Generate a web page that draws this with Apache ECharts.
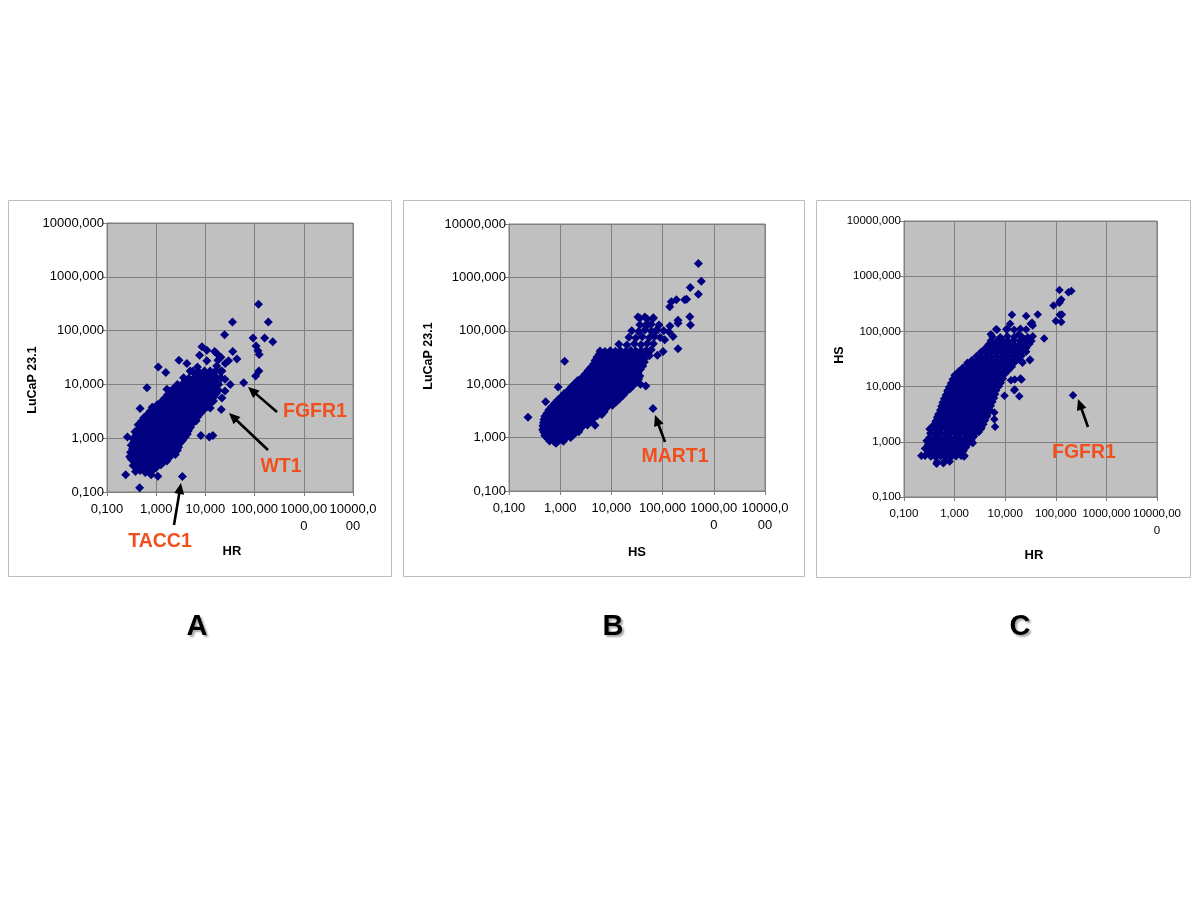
<!DOCTYPE html>
<html><head><meta charset="utf-8">
<script src="https://cdn.jsdelivr.net/npm/echarts@6/dist/echarts.min.js"></script>
<style>html,body{margin:0;padding:0;background:#fff}#c{width:1200px;height:901px}</style>
</head><body><div id="c"></div>
<script>
// ---- tick labels ----
const yTickLabels = ['0,100','1,000','10,000','100,000','1000,000','10000,000'];
const xTickLabelsAB = ['0,100','1,000','10,000','100,000','1000,00\n0','10000,0\n00'];
const xTickLabelsC = ['0,100','1,000','10,000','100,000','1000,000','10000,00\n0'];

// ---- axis titles ----
const titlesA = {x:'HR', y:'LuCaP 23.1'};
const titlesB = {x:'HS', y:'LuCaP 23.1'};
const titlesC = {x:'HR', y:'HS'};
const panelLetters = ['A','B','C'];

// ---- panel A: [HR, LuCaP 23.1] ----
const pointsA = [
[120,309],[35.5,144],[190,144],[24.5,84],[93,73],[160,73],[234,62],[107,52],[117,42],[124,36],[122,17.8],[105,14.4],[60,10.7],[21,3.4],[3.4,0.195],
[8.5,50],[10.7,43],[15.4,41],[17,37.6],[36,41],[7.6,35],[29.5,27.5],[43.7,29.5],[25.3,24.5],[21.7,17.8],[2.9,28],[1.1,21],[1.57,16.6],[4.2,24.5],[4.9,17.8],[6.9,21],[0.65,8.7],[1.65,8.1],[0.47,3.55],[0.83,3.76],[0.55,2.2],[0.26,1.05],[0.29,0.45],[0.24,0.21],[0.46,0.12],[1.08,0.196],[0.79,0.21],[14.2,1.12],[8.1,1.12],[12,1.05],
[20.7,32],[18,28],[12.5,17.8],[17,22],[10.7,27.5],[25,12.4],[18.5,10],[13.5,10],[17,7.5],[25,7.5],[32,10],[10.7,4.9],[21.7,5.6],[12.5,3.65],[14.6,4.9],[4.5,1.6],[6.5,2.1],[8.8,3.6],[3.6,10.7],[2.6,7.5],
[0.38,0.24],[0.47,0.25],[0.6,0.23],[0.74,0.25],[0.88,0.26],
[0.42,0.275],[0.53,0.28],[0.67,0.27],[0.83,0.28],[1.0,0.285],
[0.34,0.31],[0.43,0.30],[0.53,0.32],[0.66,0.31],[0.83,0.30],[1.02,0.33],[1.25,0.32],
[0.36,0.36],[0.45,0.355],[0.57,0.365],[0.71,0.36],[0.9,0.355],[1.12,0.37],[1.4,0.36],[1.65,0.375],
[0.31,0.41],[0.39,0.40],[0.48,0.42],[0.6,0.41],[0.76,0.40],[0.95,0.42],[1.18,0.41],[1.5,0.43],[1.85,0.44],
[0.33,0.47],[0.41,0.465],[0.52,0.475],[0.65,0.47],[0.81,0.46],[1.02,0.48],[1.27,0.47],[1.6,0.485],[2.0,0.49],[2.45,0.5],
[0.3,0.55],[0.37,0.54],[0.46,0.56],[0.58,0.55],[0.72,0.54],[0.9,0.56],[1.13,0.55],[1.42,0.57],[1.8,0.56],[2.25,0.58],[2.7,0.6],
[0.33,0.64],[0.41,0.63],[0.51,0.645],[0.64,0.64],[0.8,0.63],[1.0,0.65],[1.26,0.64],[1.6,0.655],[2.0,0.64],[2.5,0.66],[2.85,0.68],
[0.31,0.74],[0.39,0.73],[0.49,0.75],[0.61,0.74],[0.77,0.72],[0.97,0.75],[1.22,0.74],[1.53,0.76],[1.92,0.73],[2.4,0.77],[3.0,0.8],
[0.35,0.85],[0.44,0.84],[0.55,0.86],[0.69,0.85],[0.87,0.84],[1.1,0.86],[1.38,0.85],[1.73,0.87],[2.17,0.84],[2.75,0.87],[3.4,0.9],
[0.34,0.98],[0.42,0.96],[0.53,1.0],[0.66,0.98],[0.83,0.97],[1.04,1.0],[1.3,0.98],[1.64,1.01],[2.05,0.97],[2.6,1.0],[3.2,1.02],[3.9,1.05],
[0.39,1.14],[0.5,1.12],[0.62,1.15],[0.78,1.13],[0.98,1.14],[1.23,1.12],[1.55,1.15],[1.95,1.13],[2.45,1.15],[3.05,1.14],[3.8,1.17],[4.3,1.2],
[0.37,1.32],[0.47,1.3],[0.59,1.34],[0.74,1.32],[0.93,1.3],[1.17,1.33],[1.47,1.31],[1.85,1.34],[2.3,1.3],[2.9,1.35],[3.6,1.33],[4.5,1.38],
[0.45,1.53],[0.57,1.51],[0.71,1.54],[0.89,1.52],[1.12,1.55],[1.4,1.51],[1.75,1.54],[2.2,1.52],[2.75,1.55],[3.4,1.53],[4.3,1.57],[5.0,1.6],
[0.43,1.78],[0.54,1.76],[0.68,1.8],[0.86,1.77],[1.08,1.79],[1.36,1.76],[1.7,1.8],[2.15,1.78],[2.7,1.75],[3.4,1.8],[4.3,1.82],[5.4,1.85],
[0.5,2.06],[0.63,2.03],[0.79,2.08],[1.0,2.04],[1.25,2.07],[1.57,2.03],[1.97,2.08],[2.5,2.05],[3.1,2.07],[3.9,2.04],[4.9,2.1],[6.2,2.15],
[0.56,2.4],[0.7,2.36],[0.88,2.42],[1.1,2.38],[1.4,2.41],[1.76,2.37],[2.2,2.43],[2.8,2.4],[3.5,2.36],[4.4,2.42],[5.6,2.45],[7.0,2.5],
[0.66,2.77],[0.83,2.74],[1.04,2.8],[1.3,2.75],[1.63,2.79],[2.05,2.74],[2.6,2.8],[3.25,2.76],[4.1,2.78],[5.1,2.82],[6.4,2.85],[8.0,2.9],
[0.76,3.2],[0.96,3.15],[1.2,3.22],[1.5,3.18],[1.9,3.24],[2.4,3.17],[3.0,3.21],[3.8,3.16],[4.8,3.25],[6.0,3.2],[7.6,3.3],[9.4,3.4],
[0.9,3.67],[1.13,3.62],[1.42,3.7],[1.78,3.64],[2.25,3.69],[2.8,3.63],[3.5,3.7],[4.4,3.65],[5.5,3.68],[6.9,3.72],[8.6,3.75],[10.8,3.85],
[1.05,4.2],[1.3,4.15],[1.65,4.25],[2.05,4.18],[2.6,4.22],[3.2,4.16],[4.1,4.24],[5.1,4.2],[6.4,4.15],[8.1,4.3],[10,4.25],[12.5,4.4],
[1.3,4.85],[1.65,4.78],[2.1,4.9],[2.6,4.8],[3.3,4.88],[4.2,4.8],[5.3,4.9],[6.7,4.82],[8.5,4.88],[10.7,4.95],[13.5,5.05],
[1.5,5.6],[1.9,5.5],[2.4,5.65],[3.0,5.55],[3.8,5.62],[4.8,5.52],[6.0,5.6],[7.6,5.7],[9.5,5.55],[12,5.8],[15,5.9],
[1.7,6.45],[2.15,6.35],[2.7,6.5],[3.4,6.4],[4.3,6.48],[5.4,6.38],[6.8,6.5],[8.5,6.42],[10.7,6.46],[13.5,6.6],[16.5,6.7],
[1.9,7.4],[2.4,7.3],[3.0,7.45],[3.8,7.35],[4.8,7.5],[6.1,7.3],[7.6,7.4],[9.6,7.55],[12,7.3],[15,7.6],[18.5,7.8],
[2.3,8.6],[3.0,8.5],[3.9,8.7],[5.0,8.5],[6.4,8.65],[8.2,8.5],[10.4,8.7],[13,8.55],[16.3,8.8],
[2.7,10],[3.5,9.8],[4.4,10.2],[5.6,9.9],[7.2,10.1],[9.2,9.8],[11.5,10.2],[14.5,10],[18,10.4],
[4.1,11.5],[5.3,11.3],[7.0,11.6],[9.0,11.4],[11.5,11.7],[14.5,11.5],
[3.6,13.3],[4.6,13],[6.1,13.5],[8.2,13.1],[10.3,13.4],[13,13],[16.5,13.6],[21,13.2],
[6.3,15.3],[8.5,15],[11,15.5],[14,15.2],
[5.5,17.5],[7.4,17],[9.6,17.8],[12.5,17.2],[15.8,17.6],[20,17.3]
];

// ---- panel B: [HS, LuCaP 23.1] ----
const pointsB = [
[500,1830],[570,850],[500,485],[347,645],[295,390],[270,380],[186,380],[148,350],[138,282],[200,158],[200,138],[340,183],[350,129],[200,46],[102,41],[79,35],[33,182],[45,182],[65,170],[51,129],[75,102],[133,96],[160,78],[110,68],[139,123],
[1.22,27],[0.235,2.4],[65,3.5],[37,10],[47,9.3],[0.91,8.9],[0.52,4.7],[0.91,5.0],[4.8,1.7],[0.46,1.38],[0.83,0.78],[1.66,1.12],[2.6,1.66],
[0.62,0.86],[0.76,0.84],[0.93,0.87],[1.15,0.85],
[0.56,0.97],[0.69,0.96],[0.85,0.98],[1.05,0.97],[1.3,0.99],[1.6,1.0],
[0.5,1.1],[0.62,1.08],[0.77,1.12],[0.95,1.09],[1.18,1.11],[1.45,1.08],[1.8,1.12],
[0.48,1.26],[0.55,1.25],[0.69,1.27],[0.86,1.25],[1.06,1.26],[1.31,1.24],[1.62,1.27],[2.0,1.26],[2.3,1.29],
[0.46,1.45],[0.57,1.43],[0.7,1.47],[0.87,1.44],[1.08,1.46],[1.33,1.43],[1.65,1.47],[2.05,1.45],[2.5,1.48],
[0.46,1.66],[0.52,1.64],[0.64,1.67],[0.79,1.65],[0.98,1.67],[1.21,1.64],[1.5,1.68],[1.86,1.65],[2.3,1.67],[2.85,1.7],[3.4,1.72],
[0.47,1.9],[0.58,1.87],[0.72,1.92],[0.89,1.88],[1.1,1.91],[1.37,1.87],[1.7,1.93],[2.1,1.89],[2.6,1.92],[3.2,1.95],[3.9,2.0],
[0.48,2.18],[0.53,2.15],[0.66,2.2],[0.81,2.16],[1.0,2.19],[1.24,2.15],[1.54,2.2],[1.9,2.17],[2.35,2.19],[2.9,2.22],[3.6,2.25],[4.5,2.3],
[0.5,2.5],[0.62,2.46],[0.77,2.52],[0.95,2.47],[1.18,2.51],[1.46,2.46],[1.8,2.53],[2.25,2.48],[2.8,2.5],[3.5,2.55],[4.3,2.52],[5.3,2.6],[6.5,2.7],
[0.55,2.87],[0.69,2.83],[0.85,2.9],[1.05,2.85],[1.3,2.89],[1.62,2.84],[2.0,2.9],[2.5,2.86],[3.1,2.88],[3.85,2.92],[4.8,2.9],[5.9,2.98],[7.2,3.05],
[0.6,3.3],[0.74,3.25],[0.92,3.32],[1.14,3.27],[1.41,3.31],[1.75,3.26],[2.17,3.33],[2.7,3.28],[3.3,3.3],[4.1,3.35],[5.1,3.3],[6.3,3.4],[7.8,3.5],
[0.68,3.8],[0.83,3.75],[1.03,3.83],[1.28,3.77],[1.58,3.82],[1.96,3.76],[2.43,3.83],[3.0,3.78],[3.7,3.8],[4.6,3.85],[5.7,3.8],[7.1,3.9],[8.8,3.95],[10.5,4.05],
[0.78,4.4],[0.97,4.35],[1.2,4.42],[1.49,4.37],[1.85,4.41],[2.3,4.36],[2.85,4.43],[3.5,4.38],[4.4,4.4],[5.4,4.45],[6.7,4.4],[8.3,4.5],[10.3,4.55],[12.5,4.7],
[0.9,5.05],[1.1,4.98],[1.36,5.08],[1.68,5.0],[2.1,5.07],[2.6,5.0],[3.2,5.1],[4.0,5.02],[4.9,5.05],[6.1,5.12],[7.6,5.06],[9.4,5.15],[11.6,5.2],[14.4,5.35],
[1.05,5.8],[1.3,5.72],[1.6,5.85],[2.0,5.76],[2.45,5.82],[3.05,5.74],[3.8,5.86],[4.7,5.78],[5.8,5.8],[7.2,5.9],[8.9,5.82],[11,5.95],[13.7,6.0],[17,6.2],
[1.2,6.7],[1.45,6.6],[1.8,6.75],[2.2,6.65],[2.75,6.72],[3.4,6.62],[4.2,6.76],[5.2,6.66],[6.5,6.7],[8.0,6.8],[10,6.72],[12.3,6.85],[15.3,6.9],[19,7.1],
[1.45,7.7],[1.8,7.6],[2.2,7.75],[2.75,7.65],[3.4,7.72],[4.2,7.62],[5.2,7.78],[6.4,7.66],[8,7.7],[9.9,7.8],[12.2,7.7],[15.1,7.9],[18.7,8.0],[23,8.2],
[1.65,8.85],[2.0,8.75],[2.5,8.9],[3.1,8.78],[3.8,8.88],[4.7,8.76],[5.8,8.92],[7.2,8.8],[8.9,8.85],[11,8.95],[13.6,8.86],[16.8,9.0],[20.8,9.1],[26,9.3],
[1.9,10.2],[2.4,10],[3.0,10.3],[3.8,10.1],[4.7,10.25],[5.8,10.05],[7.2,10.3],[8.9,10.1],[11,10.2],[13.6,10.4],[16.8,10.2],[20.8,10.5],[25.7,10.6],[32,11],
[2.2,11.7],[2.7,11.5],[3.4,11.8],[4.2,11.55],[5.2,11.75],[6.5,11.5],[8.0,11.8],[9.9,11.6],[12.3,11.7],[15.2,11.9],[18.8,11.7],[23.3,12],[28.8,12.2],[34,12.5],
[2.7,13.5],[3.4,13.2],[4.3,13.6],[5.3,13.3],[6.6,13.55],[8.2,13.25],[10.1,13.6],[12.5,13.4],[15.5,13.5],[19.2,13.7],[23.8,13.6],[29.5,14],[36,14.2],
[3.1,15.6],[3.9,15.3],[4.8,15.8],[6.0,15.4],[7.4,15.7],[9.2,15.35],[11.4,15.8],[14.1,15.5],[17.5,15.6],[21.7,15.9],[26.9,15.7],[33,16.2],
[3.5,18],[4.4,17.6],[5.5,18.2],[6.9,17.8],[8.6,18.1],[10.7,17.7],[13.3,18.3],[16.5,17.9],[20.5,18],[25.5,18.4],[31.5,18.5],[37,19],
[4.0,20.8],[5.0,20.4],[6.2,21],[7.7,20.5],[9.6,20.9],[11.9,20.4],[14.8,21.1],[18.4,20.6],[22.8,20.8],[28.3,21.2],[35,21.4],[41,22],
[4.5,24],[5.6,23.5],[7,24.3],[8.7,23.7],[10.8,24.2],[13.4,23.6],[16.7,24.4],[20.8,23.8],[25.8,24.2],[32,24.6],[39,25],[44,26],
[4.8,27.7],[6.0,27.2],[7.5,28],[9.4,27.3],[11.7,27.9],[14.6,27.2],[18.2,28.1],[22.7,27.5],[28.3,27.8],[35.3,28.3],[43,29],
[5.2,32],[6.5,31.4],[8.1,32.4],[10.1,31.6],[12.6,32.2],[15.7,31.5],[19.5,32.5],[24.3,31.8],[30.2,32.3],[37.5,32.8],[46,33.5],[55,34],
[5.8,36.7],[7.2,36],[9,37.2],[11.2,36.3],[14,37],[17.4,36.2],[21.8,37.3],[27,36.5],[34,37],[42,37.8],[52,38.5],
[6,42],[7.5,41],[9.5,42.5],[12,41.5],[15,42.2],[19,41.3],[24,42.6],[30,41.8],[38,42.4],[48,43],[60,44],
[14,56],[20,54],[28,57],[38,55],[50,58],[66,57],
[22,76],[30,73],[40,77],[55,74],[70,78],[90,75],
[25,100],[34,97],[45,103],[60,98],[80,104],[105,100],
[36,130],[46,126],[60,133],[85,128],
[36,172],[50,166],[66,176]
];

// ---- panel C: [HR, HS] ----
const pointsC = [
[219,7.0],[118,560],[178,510],[203,537],[128,380],[118,330],[90,295],[120,347],[132,203],[120,200],[100,155],[128,148],[59,74],[44,203],[26,190],[34,144],[35,128],[13.6,200],[12.5,137],[32,137],[6.6,109],[5.2,89],[6.9,107],[10.5,109],[18.5,88],[23.6,72],[33,67],[19.4,54],[21,29],[30.6,30],[16.6,31],[15.4,13.5],[21,13.5],[15.4,8.9],[9.7,6.8],[6.1,3.4],[6.1,2.57],[6.3,1.87],[4.4,2.95],[3.3,1.7],[2.2,0.97],[1.54,0.54],[0.22,0.56],[0.26,0.76],[0.45,0.42],[1.8,27],[12.2,23.7],[9,41],[19,6.7],[15.1,8.6],[20,14],[13,13],[31,31],[22,27],[0.26,0.56],[0.32,1.7],[0.47,2.9],[0.74,8.6],[0.44,0.40],[0.64,0.45],[1.57,0.56],[2.3,0.95],
[0.45,0.43],[0.6,0.41],[0.8,0.44],
[0.34,0.54],[0.42,0.53],[0.53,0.55],[0.67,0.54],[0.85,0.53],[1.07,0.55],[1.35,0.56],
[0.3,0.65],[0.38,0.63],[0.48,0.66],[0.6,0.64],[0.75,0.67],[0.95,0.63],[1.2,0.66],[1.5,0.68],
[0.28,0.77],[0.34,0.76],[0.43,0.78],[0.54,0.76],[0.67,0.78],[0.85,0.77],[1.07,0.79],[1.35,0.77],[1.68,0.8],
[0.3,0.9],[0.38,0.88],[0.48,0.91],[0.6,0.89],[0.75,0.92],[0.95,0.88],[1.2,0.91],[1.5,0.9],[1.85,0.93],
[0.28,1.04],[0.35,1.03],[0.44,1.05],[0.55,1.03],[0.69,1.05],[0.87,1.03],[1.1,1.06],[1.38,1.04],[1.72,1.05],[2.15,1.08],
[0.32,1.2],[0.4,1.18],[0.5,1.22],[0.63,1.19],[0.79,1.21],[1.0,1.18],[1.25,1.22],[1.6,1.2],[2.0,1.23],[2.4,1.25],
[0.33,1.43],[0.42,1.41],[0.52,1.44],[0.66,1.42],[0.83,1.45],[1.04,1.41],[1.31,1.44],[1.65,1.42],[2.1,1.45],[2.6,1.47],[3.0,1.5],
[0.35,1.7],[0.44,1.67],[0.55,1.72],[0.7,1.68],[0.88,1.71],[1.1,1.67],[1.4,1.73],[1.75,1.69],[2.2,1.72],[2.8,1.75],[3.4,1.8],
[0.38,2.0],[0.48,1.97],[0.6,2.02],[0.76,1.98],[0.96,2.01],[1.2,1.97],[1.52,2.02],[1.92,1.99],[2.4,2.01],[3.0,2.04],[3.7,2.08],
[0.42,2.35],[0.53,2.3],[0.66,2.38],[0.83,2.32],[1.04,2.37],[1.3,2.31],[1.64,2.38],[2.05,2.33],[2.6,2.36],[3.2,2.4],[4.0,2.45],
[0.45,2.75],[0.57,2.7],[0.72,2.78],[0.9,2.72],[1.14,2.77],[1.43,2.71],[1.8,2.78],[2.25,2.73],[2.85,2.76],[3.55,2.8],[4.3,2.85],
[0.48,3.2],[0.6,3.15],[0.76,3.23],[0.95,3.17],[1.2,3.22],[1.5,3.16],[1.9,3.24],[2.4,3.18],[3.0,3.21],[3.7,3.25],[4.5,3.3],
[0.52,3.75],[0.65,3.7],[0.82,3.78],[1.03,3.72],[1.3,3.77],[1.63,3.71],[2.05,3.78],[2.57,3.73],[3.2,3.76],[4.0,3.8],[4.9,3.85],
[0.55,4.4],[0.7,4.33],[0.87,4.45],[1.1,4.36],[1.38,4.42],[1.73,4.35],[2.17,4.44],[2.7,4.37],[3.4,4.41],[4.2,4.46],[5.2,4.5],
[0.58,5.15],[0.73,5.08],[0.92,5.2],[1.16,5.1],[1.46,5.18],[1.84,5.08],[2.3,5.2],[2.9,5.12],[3.65,5.16],[4.6,5.22],[5.6,5.3],
[0.62,6.0],[0.78,5.9],[0.98,6.05],[1.23,5.95],[1.55,6.02],[1.95,5.93],[2.45,6.06],[3.1,5.96],[3.9,6.0],[4.9,6.1],[6.0,6.2],
[0.67,7.05],[0.84,6.95],[1.05,7.1],[1.32,6.98],[1.66,7.08],[2.1,6.96],[2.65,7.1],[3.3,7.0],[4.15,7.05],[5.2,7.15],[6.3,7.25],
[0.72,8.3],[0.9,8.15],[1.13,8.38],[1.42,8.22],[1.78,8.34],[2.25,8.18],[2.8,8.36],[3.5,8.24],[4.4,8.3],[5.5,8.4],[6.6,8.5],
[0.78,9.8],[0.98,9.65],[1.23,9.88],[1.55,9.7],[1.95,9.85],[2.45,9.68],[3.1,9.9],[3.9,9.75],[4.9,9.82],[6.1,9.95],[7.5,10.1],
[0.85,11.5],[1.07,11.3],[1.35,11.6],[1.7,11.35],[2.15,11.55],[2.7,11.3],[3.4,11.6],[4.3,11.4],[5.4,11.5],[6.7,11.7],[8.2,11.8],
[0.92,13.6],[1.16,13.4],[1.46,13.7],[1.83,13.45],[2.3,13.65],[2.9,13.4],[3.65,13.7],[4.6,13.5],[5.8,13.6],[7.3,13.8],[9.0,14],
[1.0,16],[1.27,15.7],[1.6,16.2],[2.0,15.8],[2.5,16.1],[3.2,15.7],[4.0,16.2],[5.0,15.9],[6.3,16],[7.9,16.3],[9.6,16.5],
[1.2,18.8],[1.5,18.5],[1.9,19],[2.4,18.6],[3.0,18.9],[3.8,18.5],[4.8,19.1],[6.0,18.7],[7.6,18.9],[9.5,19.2],[11.5,19.5],
[1.45,22],[1.85,21.6],[2.3,22.3],[2.9,21.7],[3.6,22.2],[4.6,21.6],[5.8,22.3],[7.3,21.8],[9.2,22],[11.5,22.4],[13.5,22.8],
[1.8,25.7],[2.3,25.2],[2.9,26],[3.6,25.4],[4.6,25.9],[5.8,25.3],[7.3,26],[9.2,25.5],[11.6,25.8],[14.5,26.3],
[2.2,30],[2.8,29.4],[3.5,30.4],[4.4,29.6],[5.5,30.3],[7,29.5],[8.8,30.4],[11,29.7],[14,30.2],[17.5,30.6],
[2.7,35.5],[3.4,34.8],[4.3,36],[5.4,35],[6.8,35.8],[8.6,34.9],[10.8,36],[13.6,35.2],[17,35.7],[21,36.3],
[3.3,42],[4.2,41.2],[5.3,42.5],[6.7,41.4],[8.4,42.3],[10.5,41.3],[13.2,42.4],[16.6,41.6],[21,42.2],[26,43],
[4.0,49],[5.1,48],[6.5,49.6],[8.2,48.3],[10.3,49.4],[13,48.2],[16.4,49.5],[20.6,48.6],[26,50],
[4.7,58],[6,56.8],[7.6,58.6],[9.6,57],[12,58.4],[15,56.9],[19,58.5],[24,57.4],[30,59],
[5.2,68],[6.8,66.5],[8.8,68.8],[11.5,67],[15,69],[19.5,67.5],[25,69.5],
[5.6,80],[8,78],[11,82],[15,79],[21,81],[28,78],[35,82],
[11,110],[15,107],[20,112],[26,108]
];

// ---- annotations ----
const annotations = [
  {text:'FGFR1', label:[315,412], tail:[277,412], head:[248,387]},
  {text:'WT1',   label:[281,467], tail:[268,450], head:[229,413]},
  {text:'TACC1', label:[160,542], tail:[174,525], head:[181,483]},
  {text:'MART1', label:[675,457], tail:[665,442], head:[655,415]},
  {text:'FGFR1', label:[1084,453], tail:[1088,427], head:[1078,399]}
];

const FONT = '"Liberation Sans", Arial, sans-serif';
const panels = [
  {grid:{left:107, top:223, width:246, height:269}, data:pointsA, xt:xTickLabelsAB, fs:13, lh:17, sym:9, titles:titlesA,
   xt_pos:[232,551], yt_pos:[33,380], box:[8.5,200.5,383,376], letter:[197,627]},
  {grid:{left:509, top:224, width:256, height:267}, data:pointsB, xt:xTickLabelsAB, fs:13, lh:17, sym:9, titles:titlesB,
   xt_pos:[637,552], yt_pos:[429,356], box:[403.5,200.5,401,376], letter:[613,627]},
  {grid:{left:904, top:221, width:253, height:276}, data:pointsC, xt:xTickLabelsC, fs:11.5, lh:16.5, sym:8.5, titles:titlesC,
   xt_pos:[1034,555], yt_pos:[840,355], box:[816.5,200.5,374,377], letter:[1020,627]}
];

function tickIndex(v){ return Math.round(Math.log10(v)) + 1; }

const grids = [], xAxes = [], yAxes = [], series = [], graphics = [];
panels.forEach((p, i) => {
  grids.push(Object.assign({show:true, backgroundColor:'#C0C0C0', borderColor:'#808080', borderWidth:1, containLabel:false}, p.grid));
  const common = {
    gridIndex:i, type:'log', logBase:10, min:0.1, max:10000, splitNumber:5,
    axisLine:{show:true, onZero:false, lineStyle:{color:'#808080', width:1}},
    axisTick:{show:true, inside:false, length:4, lineStyle:{color:'#808080'}},
    minorTick:{show:false}, minorSplitLine:{show:false},
    splitLine:{show:true, lineStyle:{color:'#808080', width:1}}
  };
  xAxes.push(Object.assign({}, common, {
    axisLabel:{show:true, color:'#000', fontFamily:FONT, fontSize:p.fs, lineHeight:p.lh, margin:9, align:'center',
      showMinLabel:true, showMaxLabel:true, hideOverlap:false,
      formatter:(v)=>p.xt[tickIndex(v)] || ''}
  }));
  yAxes.push(Object.assign({}, common, {
    axisLabel:{show:true, color:'#000', fontFamily:FONT, fontSize:p.fs, margin:3,
      showMinLabel:true, showMaxLabel:true, hideOverlap:false,
      formatter:(v)=>yTickLabels[tickIndex(v)] || ''}
  }));
  series.push({type:'scatter', xAxisIndex:i, yAxisIndex:i, data:p.data, symbol:'diamond', symbolSize:p.sym,
    itemStyle:{color:'#000080', opacity:1}, emphasis:{disabled:true}, silent:true, clip:true});
  graphics.push({type:'rect', shape:{x:p.box[0], y:p.box[1], width:p.box[2], height:p.box[3]},
    style:{fill:'none', stroke:'#BDBDBD', lineWidth:1}, z:1});
  graphics.push({type:'text', x:p.xt_pos[0], y:p.xt_pos[1],
    style:{text:p.titles.x, font:'bold 13px '+FONT, fill:'#000', align:'center', verticalAlign:'middle'}, z:10});
  graphics.push({type:'text', x:p.yt_pos[0], y:p.yt_pos[1], rotation:Math.PI/2,
    style:{text:p.titles.y, font:'bold 12.5px '+FONT, fill:'#000', align:'center', verticalAlign:'middle'}, z:10});
  graphics.push({type:'text', x:p.letter[0], y:p.letter[1],
    style:{text:panelLetters[i], font:'bold 29px '+FONT, fill:'#000', align:'center', verticalAlign:'middle',
      textShadowColor:'rgba(0,0,0,0.35)', textShadowBlur:2, textShadowOffsetX:2, textShadowOffsetY:2}, z:10});
});

function arrow(t, h){
  const dx=h[0]-t[0], dy=h[1]-t[1], L=Math.hypot(dx,dy), ux=dx/L, uy=dy/L, hl=11, hw=5;
  const bx=h[0]-ux*hl, by=h[1]-uy*hl;
  return [
    {type:'line', shape:{x1:t[0], y1:t[1], x2:bx+ux*2, y2:by+uy*2}, style:{stroke:'#000', lineWidth:2.6}, z:20},
    {type:'polygon', shape:{points:[[h[0],h[1]],[bx-uy*hw,by+ux*hw],[bx+uy*hw,by-ux*hw]]}, style:{fill:'#000'}, z:20}
  ];
}
annotations.forEach(a => {
  arrow(a.tail, a.head).forEach(g => graphics.push(g));
  graphics.push({type:'text', x:a.label[0], y:a.label[1],
    style:{text:a.text, font:'bold 19.5px '+FONT, fill:'#F0501E', align:'center', verticalAlign:'middle'}, z:20});
});

const chart = echarts.init(document.getElementById('c'), null, {renderer:'canvas'});
chart.setOption({
  animation:false,
  backgroundColor:'#ffffff',
  textStyle:{fontFamily:FONT},
  grid:grids, xAxis:xAxes, yAxis:yAxes, series:series, graphic:graphics
});
</script></body></html>
